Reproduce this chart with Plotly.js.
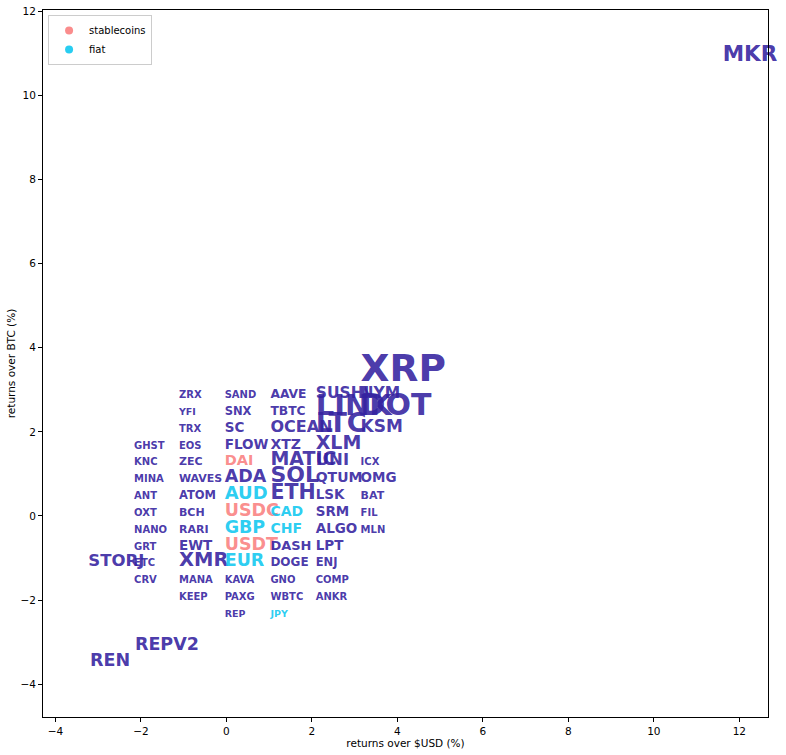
<!DOCTYPE html>
<html>
<head>
<meta charset="utf-8">
<script src="https://cdn.plot.ly/plotly-3.0.1.min.js"></script>
<style>
  html, body { margin: 0; padding: 0; background: #ffffff; }
  #chart { width: 786px; height: 755px; }
</style>
</head>
<body>
<div id="chart"></div>
<script>
// Token symbols, returns over $USD (%) , returns over BTC (%), label size, group
const symbols = [
  "XRP",
  "ZRX","SAND","AAVE","SUSHI","NYM",
  "YFI","SNX","TBTC","LINK","DOT",
  "TRX","SC","OCEAN","LTC","KSM",
  "GHST","EOS","FLOW","XTZ","XLM",
  "KNC","ZEC","DAI","MATIC","UNI","ICX",
  "MINA","WAVES","ADA","SOL","QTUM","OMG",
  "ANT","ATOM","AUD","ETH","LSK","BAT",
  "OXT","BCH","USDC","CAD","SRM","FIL",
  "NANO","RARI","GBP","CHF","ALGO","MLN",
  "GRT","EWT","USDT","DASH","LPT",
  "STORJ","ETC","XMR","EUR","DOGE","ENJ",
  "CRV","MANA","KAVA","GNO","COMP",
  "KEEP","PAXG","WBTC","ANKR",
  "REP","JPY",
  "MKR","REPV2","REN"
];
const returnsUSD = [
  3.14,
  -1.11,-0.04,1.03,2.09,3.14,
  -1.11,-0.04,1.03,2.09,3.14,
  -1.11,-0.04,1.03,2.09,3.14,
  -2.16,-1.11,-0.04,1.03,2.09,
  -2.16,-1.11,-0.04,1.03,2.09,3.14,
  -2.16,-1.11,-0.04,1.03,2.09,3.14,
  -2.16,-1.11,-0.04,1.03,2.09,3.14,
  -2.16,-1.11,-0.04,1.03,2.09,3.14,
  -2.16,-1.11,-0.04,1.03,2.09,3.14,
  -2.16,-1.11,-0.04,1.03,2.09,
  -3.23,-2.16,-1.11,-0.04,1.03,2.09,
  -2.16,-1.11,-0.04,1.03,2.09,
  -1.11,-0.04,1.03,2.09,
  -0.04,1.03,
  11.61,-2.14,-3.19
];
const returnsBTC = [
  3.2,
  2.8,2.8,2.8,2.8,2.8,
  2.4,2.4,2.4,2.4,2.4,
  2.0,2.0,2.0,2.0,2.0,
  1.6,1.6,1.6,1.6,1.6,
  1.2,1.2,1.2,1.2,1.2,1.2,
  0.8,0.8,0.8,0.8,0.8,0.8,
  0.4,0.4,0.4,0.4,0.4,0.4,
  0.0,0.0,0.0,0.0,0.0,0.0,
  -0.4,-0.4,-0.4,-0.4,-0.4,-0.4,
  -0.8,-0.8,-0.8,-0.8,-0.8,
  -1.2,-1.2,-1.2,-1.2,-1.2,-1.2,
  -1.6,-1.6,-1.6,-1.6,-1.6,
  -2.0,-2.0,-2.0,-2.0,
  -2.4,-2.4,
  10.81,-3.18,-3.56
];
const labelSizes = [
  37.5,
  10,10,12.3,15.5,15.5,
  9.5,11.5,12.3,29,30,
  10,13.5,16,27,17,
  10,10,13.5,14,19,
  10,11,14.5,19,16.5,10,
  10,11,17.5,22,14,13.5,
  10,11.5,18,20.5,13.5,11,
  10,11,17.5,14,13.5,10,
  10,11,17.5,14,13.5,10,
  10,13.5,17.5,13,13.5,
  16.5,10,19.5,17.5,12,11.5,
  10,10,10,10,10,
  10,10,10,10,
  9.5,9.5,
  21.5,17.5,17.5
];
const groups = [
  "crypto",
  "crypto","crypto","crypto","crypto","crypto",
  "crypto","crypto","crypto","crypto","crypto",
  "crypto","crypto","crypto","crypto","crypto",
  "crypto","crypto","crypto","crypto","crypto",
  "crypto","crypto","stablecoins","crypto","crypto","crypto",
  "crypto","crypto","crypto","crypto","crypto","crypto",
  "crypto","crypto","fiat","crypto","crypto","crypto",
  "crypto","crypto","stablecoins","fiat","crypto","crypto",
  "crypto","crypto","fiat","fiat","crypto","crypto",
  "crypto","crypto","stablecoins","crypto","crypto",
  "crypto","crypto","crypto","fiat","crypto","crypto",
  "crypto","crypto","crypto","crypto","crypto",
  "crypto","crypto","crypto","crypto",
  "crypto","fiat",
  "crypto","crypto","crypto"
];
const legendGroups = ["stablecoins", "fiat"];

const groupColors = {
  crypto: "rgba(52,34,160,0.9)",
  stablecoins: "rgba(250,128,128,0.9)",
  fiat: "rgba(17,200,240,0.9)"
};

// Layout geometry
const W = 786, H = 755;
const margin = {l: 43, r: 18, t: 10, b: 38};
const xRange = [-4.29, 12.67];
const yRange = [-4.78, 12.03];
const pxPerUnitY = (H - margin.t - margin.b) / (yRange[1] - yRange[0]);

// Labels are anchored at their baseline (left edge at x, baseline at y).
// Plotly's "top right" text position places the baseline 0.25*fontsize above the point.
const yPlot = returnsBTC.map((v, i) => v - 0.25 * labelSizes[i] / pxPerUnitY);

const traces = [{
  type: "scatter",
  mode: "text",
  x: returnsUSD,
  y: yPlot,
  text: symbols,
  textposition: "top right",
  textfont: {
    family: "DejaVu Sans",
    weight: "bold",
    size: labelSizes,
    color: groups.map(g => groupColors[g])
  },
  showlegend: false,
  hoverinfo: "text",
  cliponaxis: false
}];

legendGroups.forEach(g => {
  traces.push({
    type: "scatter",
    mode: "markers",
    x: [null],
    y: [null],
    name: g,
    marker: {color: groupColors[g], size: 8, symbol: "circle"},
    showlegend: true
  });
});

const axisCommon = {
  showgrid: false,
  zeroline: false,
  showline: true,
  linecolor: "#000",
  linewidth: 1,
  mirror: true,
  ticks: "outside",
  ticklen: 4,
  tickwidth: 1,
  tickcolor: "#000",
  tickfont: {family: "DejaVu Sans", size: 10.5, color: "#000"}
};

const layout = {
  width: W,
  height: H,
  margin: margin,
  paper_bgcolor: "#ffffff",
  plot_bgcolor: "#ffffff",
  font: {family: "DejaVu Sans", size: 10, color: "#000"},
  xaxis: Object.assign({}, axisCommon, {
    range: xRange,
    tickmode: "array",
    tickvals: [-4, -2, 0, 2, 4, 6, 8, 10, 12],
    title: {text: "returns over $USD (%)", font: {family: "DejaVu Sans", size: 10.5, color: "#000"}, standoff: 3}
  }),
  yaxis: Object.assign({}, axisCommon, {
    range: yRange,
    tickmode: "array",
    tickvals: [-4, -2, 0, 2, 4, 6, 8, 10, 12],
    title: {text: "returns over BTC (%)", font: {family: "DejaVu Sans", size: 10.5, color: "#000"}, standoff: 2}
  }),
  showlegend: true,
  legend: {
    x: 0.007,
    y: 0.993,
    xanchor: "left",
    yanchor: "top",
    bgcolor: "rgba(255,255,255,0.8)",
    bordercolor: "#cccccc",
    borderwidth: 1,
    font: {family: "DejaVu Sans", size: 10, color: "#000"},
    itemwidth: 30,
    tracegroupgap: 0
  }
};

Plotly.newPlot("chart", traces, layout, {displayModeBar: false, staticPlot: false});
</script>
</body>
</html>
